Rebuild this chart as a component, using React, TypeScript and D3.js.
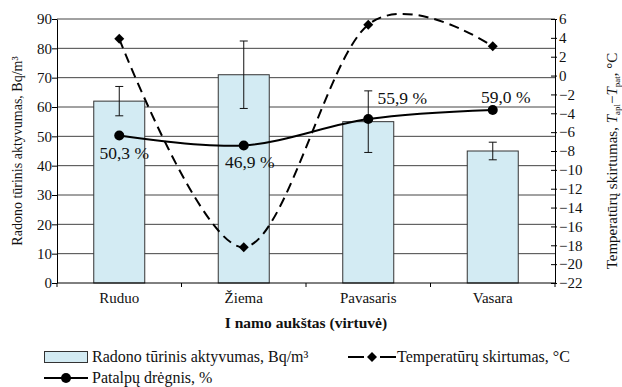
import React, { useRef, useEffect } from "react";
import * as d3 from "d3";

const seasons = ["Ruduo", "Žiema", "Pavasaris", "Vasara"];
const radon = [62, 71, 55, 45];
const radonLow = [57, 59.5, 44.5, 42];
const radonHigh = [67, 82.5, 65.5, 48];
const humidity = [50.3, 46.9, 55.9, 59.0];
const humidityLabels = ["50,3 %", "46,9 %", "55,9 %", "59,0 %"];
const tempDiff = [3.9, -18.2, 5.4, 3.1];
const leftTicks = [0, 10, 20, 30, 40, 50, 60, 70, 80, 90];
const rightTicks = [6, 4, 2, 0, -2, -4, -6, -8, -10, -12, -14, -16, -18, -20, -22];

const FONT = "Liberation Serif, Times New Roman, serif";

const App = () => {
  const svgRef = useRef<SVGSVGElement>(null);

  useEffect(() => {
    const W = 622;
    const H = 387;
    const margin = { top: 19, right: 67, bottom: 104, left: 57 };
    const width = W - margin.left - margin.right;
    const height = H - margin.top - margin.bottom;

    const svg = d3.select(svgRef.current).attr("width", W).attr("height", H);
    svg.selectAll("*").remove();
    svg.attr("font-family", FONT);

    const g = svg.append("g").attr("transform", `translate(${margin.left},${margin.top})`);

    const x = d3.scaleBand().domain(seasons).range([0, width]);
    const y = d3.scaleLinear().domain([0, 90]).range([height, 0]);
    const yR = d3.scaleLinear().domain([-22, 6]).range([height, 0]);
    const cx = (i: number) => (x(seasons[i]) as number) + x.bandwidth() / 2;

    // grid
    g.append("g")
      .selectAll("line")
      .data(leftTicks.slice(1))
      .enter()
      .append("line")
      .attr("x1", 0)
      .attr("x2", width)
      .attr("y1", (d) => y(d))
      .attr("y2", (d) => y(d))
      .attr("stroke", "#444")
      .attr("stroke-width", 1);

    // bars
    const barW = 51;
    g.append("g")
      .selectAll("rect")
      .data(radon)
      .enter()
      .append("rect")
      .attr("x", (d, i) => cx(i) - barW / 2)
      .attr("y", (d) => y(d))
      .attr("width", barW)
      .attr("height", (d) => height - y(d))
      .attr("fill", "#d3ebf3")
      .attr("stroke", "#333")
      .attr("stroke-width", 1);

    // error bars
    const eb = g.append("g").attr("stroke", "#111").attr("stroke-width", 1);
    radon.forEach((d, i) => {
      const c = cx(i);
      eb.append("line").attr("x1", c).attr("x2", c).attr("y1", y(radonLow[i])).attr("y2", y(radonHigh[i]));
      eb.append("line").attr("x1", c - 4).attr("x2", c + 4).attr("y1", y(radonLow[i])).attr("y2", y(radonLow[i]));
      eb.append("line").attr("x1", c - 4).attr("x2", c + 4).attr("y1", y(radonHigh[i])).attr("y2", y(radonHigh[i]));
    });

    // left axis
    const la = g.append("g").call(d3.axisLeft(y).tickValues(leftTicks).tickSize(5).tickSizeOuter(0));
    la.attr("font-family", FONT);
    la.select(".domain").attr("stroke", "#000");
    la.selectAll(".tick line").attr("stroke", "#000");
    la.selectAll(".tick text").attr("font-size", 15).attr("fill", "#111").attr("x", -5);

    // right axis
    const ra = g
      .append("g")
      .attr("transform", `translate(${width},0)`)
      .call(d3.axisRight(yR).tickValues(rightTicks).tickSize(3).tickSizeOuter(0).tickFormat((d) => String(d).replace("-", "−")));
    ra.attr("font-family", FONT);
    ra.select(".domain").attr("stroke", "#000");
    ra.selectAll(".tick line").attr("stroke", "#000").attr("x1", -4).attr("x2", 2);
    ra.selectAll(".tick text").attr("font-size", 15).attr("fill", "#111").attr("x", 4);

    // bottom axis
    const xa = g.append("g").attr("transform", `translate(0,${height})`);
    xa.append("line").attr("x1", 0).attr("x2", width).attr("stroke", "#000");
    [0, 1, 2, 3, 4].forEach((k) => {
      const px = k * x.step();
      xa.append("line").attr("x1", px).attr("x2", px).attr("y1", 0).attr("y2", 4).attr("stroke", "#000");
    });
    seasons.forEach((s, i) => {
      xa.append("text")
        .attr("x", cx(i))
        .attr("y", 20)
        .attr("text-anchor", "middle")
        .attr("font-size", 15)
        .attr("fill", "#111")
        .text(s);
    });

    // temperature line (right axis)
    const tempLine = d3
      .line<number>()
      .x((d, i) => cx(i))
      .y((d) => yR(d))
      .curve(d3.curveCardinal.tension(0));
    g.append("path")
      .datum(tempDiff)
      .attr("fill", "none")
      .attr("stroke", "#000")
      .attr("stroke-width", 2)
      .attr("stroke-dasharray", "10,6")
      .attr("d", tempLine);
    g.selectAll(".diamond")
      .data(tempDiff)
      .enter()
      .append("path")
      .attr("class", "diamond")
      .attr("transform", (d, i) => `translate(${cx(i)},${yR(d)}) rotate(45)`)
      .attr("d", d3.symbol().type(d3.symbolSquare).size(50))
      .attr("fill", "#000");

    // humidity line (left axis)
    const humLine = d3
      .line<number>()
      .x((d, i) => cx(i))
      .y((d) => y(d))
      .curve(d3.curveCardinal.tension(0));
    g.append("path")
      .datum(humidity)
      .attr("fill", "none")
      .attr("stroke", "#000")
      .attr("stroke-width", 2)
      .attr("d", humLine);
    g.selectAll(".dot")
      .data(humidity)
      .enter()
      .append("circle")
      .attr("class", "dot")
      .attr("cx", (d, i) => cx(i))
      .attr("cy", (d) => y(d))
      .attr("r", 5)
      .attr("fill", "#000");

    // humidity labels
    const labelOffsets = [
      [5, 24],
      [6, 23],
      [34, -15],
      [13, -7],
    ];
    humidity.forEach((d, i) => {
      g.append("text")
        .attr("x", cx(i) + labelOffsets[i][0])
        .attr("y", y(d) + labelOffsets[i][1])
        .attr("text-anchor", "middle")
        .attr("font-size", 17.5)
        .attr("fill", "#111")
        .text(humidityLabels[i]);
    });

    // axis titles
    svg
      .append("text")
      .attr("transform", `translate(22,${margin.top + height / 2}) rotate(-90)`)
      .attr("text-anchor", "middle")
      .attr("font-size", 14)
      .attr("fill", "#111")
      .text("Radono tūrinis aktyvumas, Bq/m³");

    const rt = svg
      .append("text")
      .attr("transform", `translate(617,161) rotate(-90)`)
      .attr("text-anchor", "middle")
      .attr("font-size", 15)
      .attr("fill", "#111");
    rt.append("tspan").text("Temperatūrų skirtumas, ");
    rt.append("tspan").attr("font-style", "italic").text("T");
    rt.append("tspan").attr("font-size", 9).attr("dy", 3).text("apl");
    rt.append("tspan").attr("dy", -3).text("−");
    rt.append("tspan").attr("font-style", "italic").text("T");
    rt.append("tspan").attr("font-size", 9).attr("dy", 3).text("pat");
    rt.append("tspan").attr("dy", -3).text(", °C");

    svg
      .append("text")
      .attr("x", margin.left + width / 2)
      .attr("y", 328)
      .attr("text-anchor", "middle")
      .attr("font-size", 15.5)
      .attr("font-weight", "bold")
      .attr("fill", "#111")
      .text("I namo aukštas (virtuvė)");

    // legend
    const lg = svg.append("g").attr("font-size", 16).attr("fill", "#111");
    lg.append("rect").attr("x", 44.5).attr("y", 351.5).attr("width", 43).attr("height", 11).attr("fill", "#d3ebf3").attr("stroke", "#333");
    lg.append("text").attr("x", 92).attr("y", 362).text("Radono tūrinis aktyvumas, Bq/m³");

    lg.append("line").attr("x1", 348).attr("x2", 396).attr("y1", 357).attr("y2", 357).attr("stroke", "#000").attr("stroke-width", 2).attr("stroke-dasharray", "16,16");
    lg.append("path")
      .attr("transform", "translate(372,357) rotate(45)")
      .attr("d", d3.symbol().type(d3.symbolSquare).size(50))
      .attr("fill", "#000");
    lg.append("text").attr("x", 397).attr("y", 362).text("Temperatūrų skirtumas, °C");

    lg.append("line").attr("x1", 44).attr("x2", 88).attr("y1", 378).attr("y2", 378).attr("stroke", "#000").attr("stroke-width", 2);
    lg.append("circle").attr("cx", 66).attr("cy", 378).attr("r", 5).attr("fill", "#000");
    lg.append("text").attr("x", 92).attr("y", 383).text("Patalpų drėgnis, %");
  }, []);

  return <svg ref={svgRef} style={{ position: "absolute", left: 0, top: 0, background: "#fff" }}></svg>;
};

export default App;
